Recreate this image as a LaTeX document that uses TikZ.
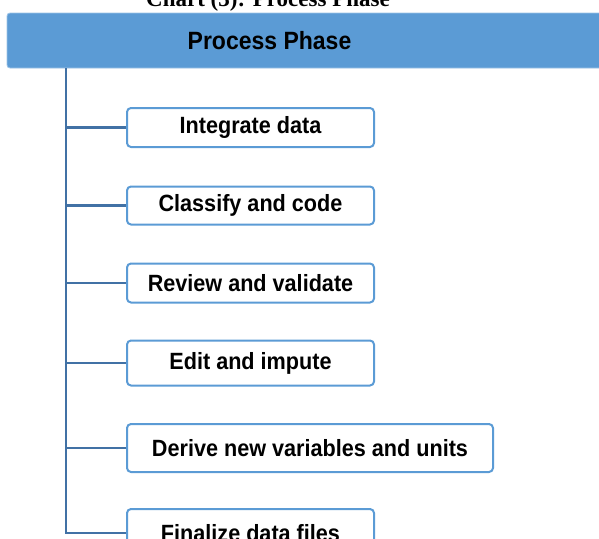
\documentclass[tikz,border=0pt]{standalone}
\usepackage{fontspec}
\setmainfont{Liberation Sans}
\newfontfamily\titlefont{Liberation Serif}
\newfontfamily\narrowfont[FakeStretch=0.92]{Liberation Sans}
\usepackage{tikz}
\usetikzlibrary{positioning, calc}
\definecolor{phaseblue}{RGB}{91, 155, 213}
\definecolor{trunkblue}{RGB}{65, 113, 165}

\begin{document}
\begin{tikzpicture}[x=1pt, y=-1pt,
  stepbox/.style={draw=phaseblue, line width=2pt, fill=white, rounded corners=4pt,
    minimum width=247pt, inner sep=0pt, font=\narrowfont\fontsize{23.5}{26}\selectfont\bfseries},
  trunk/.style={draw=trunkblue, line width=2.5pt}]
  \useasboundingbox (0,0) rectangle (599,538);

  % title (cut at the top)
  \node[font=\titlefont\fontsize{23}{26}\selectfont\bfseries, anchor=base] (title) at (268, 6) {Chart (3): Process Phase};

  % header bar
  \fill[phaseblue, draw=phaseblue!60!white, line width=0.8pt, rounded corners=3pt] (7, 13) rectangle (640, 68);
  \node[font=\narrowfont\fontsize{25}{28}\selectfont\bfseries] (head) at (269.5, 40.5) {Process Phase};
  \coordinate (top) at (66, 68);

  % steps
  \node[stepbox, minimum height=39pt] (int) at (250.5, 127.5) {Integrate data};
  \node[stepbox, minimum height=38pt] (cls) at (250.5, 205.5) {Classify and code};
  \node[stepbox, minimum height=39pt] (rev) at (250.5, 283) {Review and validate};
  \node[stepbox, minimum height=45pt] (edt) at (250.5, 363) {Edit and impute};
  \node[stepbox, minimum height=48pt, minimum width=366pt] (drv) at (310, 448) {Derive new variables and units};
  \node[stepbox, minimum height=48pt] (fin) at (250.5, 533) {Finalize data files};

  % tree lines
  \draw[trunk] (top) |- (fin.west);
  \foreach \s in {int, cls, rev, edt, drv}
    \draw[trunk] (top |- \s.west) -- (\s.west);
\end{tikzpicture}
\end{document}
